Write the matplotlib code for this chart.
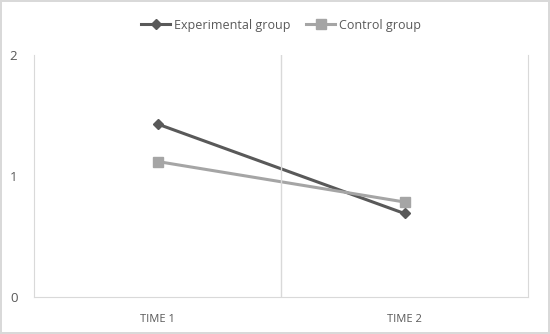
import matplotlib.pyplot as plt

# Data
categories = ["TIME 1", "TIME 2"]
experimental = [1.43, 0.69]
control = [1.12, 0.785]
y_ticks = [0, 1, 2]

plt.rcParams['font.family'] = ['Open Sans', 'DejaVu Sans']

fig = plt.figure(figsize=(5.5, 3.34), dpi=100)
fig.patch.set_edgecolor('#d9d9d9')
fig.patch.set_linewidth(1.5)
ax = fig.add_axes([0.062, 0.111, 0.898, 0.724])

x = range(len(categories))
ax.plot(x, experimental, color='#595959', lw=2.2, marker='D', ms=5.5,
        label='Experimental group')
ax.plot(x, control, color='#a5a5a5', lw=2.2, marker='s', ms=7,
        label='Control group')

ax.set_xlim(-0.5, 1.5)
ax.set_ylim(0, 2)
ax.set_yticks(y_ticks)
ax.set_xticks(list(x))
ax.set_xticklabels(categories)
ax.axvline(0.5, color='#d9d9d9', lw=1)

for s in ['left', 'right', 'bottom']:
    ax.spines[s].set_color('#d9d9d9')
ax.spines['top'].set_visible(False)
ax.tick_params(length=0, colors='#595959', labelsize=9.5)
ax.tick_params(axis='x', pad=12, labelsize=8)
ax.tick_params(axis='y', pad=12)

ax.legend(loc='center', bbox_to_anchor=(0.5, 1.124), ncol=2, frameon=False,
          fontsize=9, labelcolor='#595959', handlelength=2.3, columnspacing=1.3,
          handletextpad=0.3)

fig.savefig('out.png', dpi=100)
